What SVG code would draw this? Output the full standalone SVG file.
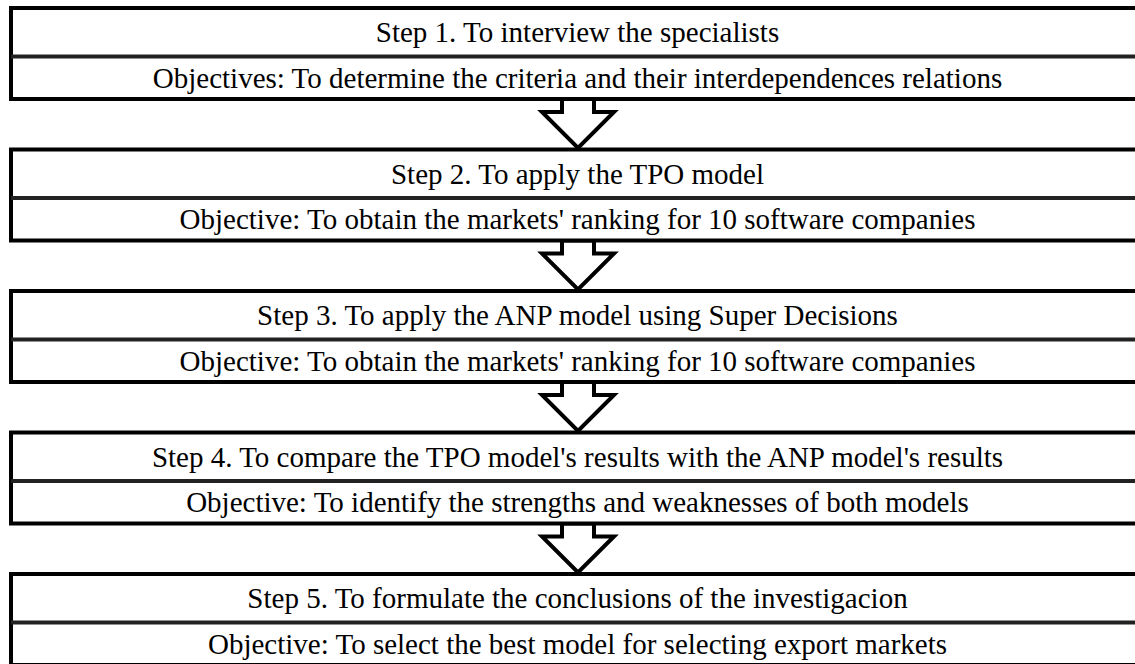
<svg xmlns="http://www.w3.org/2000/svg" width="1135" height="664" viewBox="0 0 1135 664">
<style>
.box{fill:#fff;stroke:#000;stroke-width:4}
.div{stroke:#222;stroke-width:4}
.t{font-family:"Liberation Serif","Times New Roman",serif;font-size:29px;fill:#000;text-anchor:middle}
.arr{fill:#fff;stroke:#000;stroke-width:4;stroke-linejoin:miter}
</style>
<rect width="1135" height="664" fill="#fff"/>
<g id="connectors">
<polygon class="arr" points="562,99 562,112 542,112 578,148 614,112 594,112 594,99"/>
<polygon class="arr" points="562,240.5 562,253.5 542,253.5 578,289.5 614,253.5 594,253.5 594,240.5"/>
<polygon class="arr" points="562,382 562,395 542,395 578,431 614,395 594,395 594,382"/>
<polygon class="arr" points="562,523.5 562,536.5 542,536.5 578,572.5 614,536.5 594,536.5 594,523.5"/>
</g>
<g id="step1">
<rect class="box" x="11" y="8" width="1140" height="91"/>
<line class="div" x1="11" y1="56.5" x2="1140" y2="56.5"/>
<text class="t" x="577.5" y="42">Step 1. To interview the specialists</text>
<text class="t" x="577.5" y="87.5">Objectives: To determine the criteria and their interdependences relations</text>
</g>
<g id="step2">
<rect class="box" x="11" y="149.5" width="1140" height="91"/>
<line class="div" x1="11" y1="198" x2="1140" y2="198"/>
<text class="t" x="577.5" y="183.5">Step 2. To apply the TPO model</text>
<text class="t" x="577.5" y="229">Objective: To obtain the markets' ranking for 10 software companies</text>
</g>
<g id="step3">
<rect class="box" x="11" y="291" width="1140" height="91"/>
<line class="div" x1="11" y1="339.5" x2="1140" y2="339.5"/>
<text class="t" x="577.5" y="325">Step 3. To apply the ANP model using Super Decisions</text>
<text class="t" x="577.5" y="370.5">Objective: To obtain the markets' ranking for 10 software companies</text>
</g>
<g id="step4">
<rect class="box" x="11" y="432.5" width="1140" height="91"/>
<line class="div" x1="11" y1="481" x2="1140" y2="481"/>
<text class="t" x="577.5" y="466.5">Step 4. To compare the TPO model's results with the ANP model's results</text>
<text class="t" x="577.5" y="512">Objective: To identify the strengths and weaknesses of both models</text>
</g>
<g id="step5">
<rect class="box" x="11" y="574" width="1140" height="91"/>
<line class="div" x1="11" y1="622.5" x2="1140" y2="622.5"/>
<text class="t" x="577.5" y="608">Step 5. To formulate the conclusions of the investigacion</text>
<text class="t" x="577.5" y="653.5">Objective: To select the best model for selecting export markets</text>
</g>
</svg>
